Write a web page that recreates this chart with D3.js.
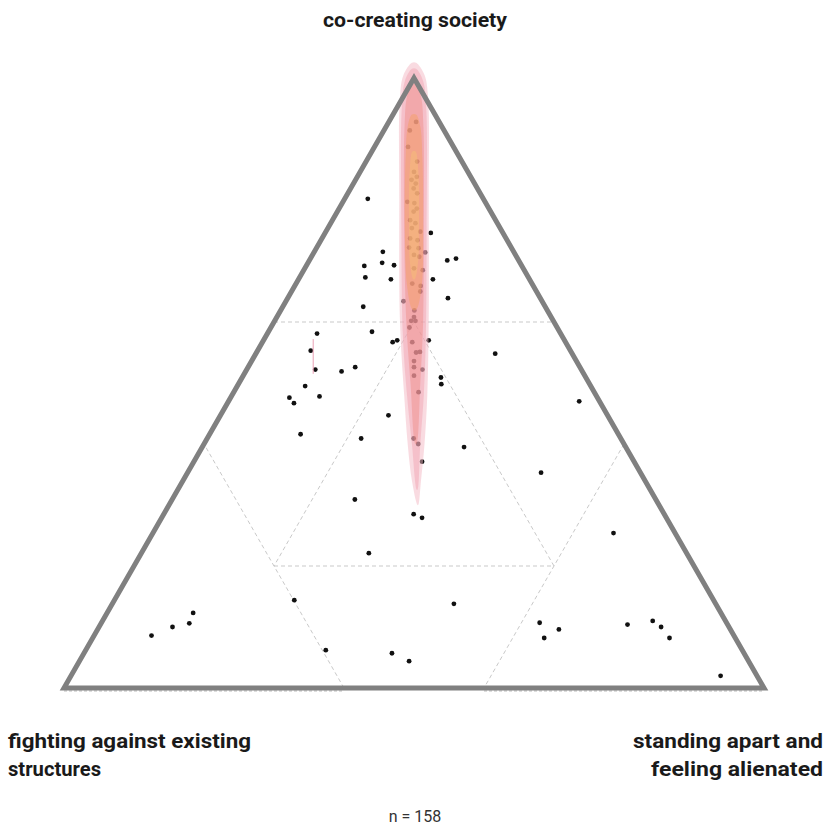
<!DOCTYPE html>
<html>
<head>
<meta charset="utf-8">
<script src="https://cdn.jsdelivr.net/npm/d3@7"></script>
<style>
  body { margin: 0; background: #fff; }
  svg { display: block; }
  text { font-family: Roboto, "Noto Sans", sans-serif; }
</style>
</head>
<body>
<div id="chart"></div>
<script>
// corner labels (top, bottom left, bottom right)
var topLabel = ["co-creating society"];
var leftLabel = ["fighting against existing", "structures"];
var rightLabel = ["standing apart and", "feeling alienated"];
var sampleSize = 158;

// partition cut points, in %
var cuts = [20, 60];

// responses: [co-creating, fighting, alienated] in %
var responses = [
  [80.2,16.5,3.3],[74.6,10.3,15.1],[71.5,18.7,9.8],[69.7,19.7,10.6],[69.2,22.5,8.3],
  [69.3,18.2,12.5],[67.3,23.3,9.4],[67.0,19.8,13.2],[70.1,10.2,19.7],[70.4,8.8,20.8],
  [67.0,13.8,19.2],[63.9,13.2,22.9],[63.4,19.8,16.8],[62.5,26.0,11.5],[58.4,26.8,14.8],
  [56.7,24.7,18.6],[57.0,23.9,19.1],[57.0,19.4,23.6],[50.9,20.7,28.4],[49.8,21.2,29.0],
  [51.9,34.4,13.7],[52.6,32.1,15.3],[58.1,34.8,7.1],[55.3,37.1,7.6],[52.2,38.0,9.8],
  [49.5,40.8,9.7],[47.6,44.0,8.4],[46.7,43.8,9.5],[47.8,39.6,12.6],[41.6,45.4,13.0],
  [44.7,31.3,24.0],[40.9,37.1,22.0],[40.9,29.6,29.5],[40.0,29.4,30.6],[39.5,23.1,37.4],
  [37.1,30.3,32.6],[30.9,43.0,26.1],[28.5,35.8,35.7],[27.9,34.9,37.2],[22.1,45.4,32.5],
  [54.8,11.0,34.2],[47.0,2.9,50.1],[35.3,14.2,50.5],[25.4,8.8,65.8],[13.8,37.4,48.8],
  [14.4,59.9,25.7],[6.2,59.5,34.3],[5.7,50.3,44.0],[4.4,48.5,47.1],[12.3,75.4,12.3],
  [10.0,79.5,10.5],[10.6,76.8,12.6],[8.6,83.2,8.2],[10.7,26.7,62.6],[8.2,27.3,64.5],
  [9.6,24.5,65.9],[10.4,14.3,75.3],[11.0,10.4,78.6],[10.0,9.7,80.3],[8.2,9.4,82.4],
  [2.0,5.2,92.8],
  [92.8,3.3,3.9],[91.4,4.9,3.7],[88.7,6.5,4.8],[86.3,6.4,7.3],[84.6,7.7,7.7],
  [83.8,7.7,8.5],[83.3,8.7,8.0],[82.7,8.4,8.9],[81.9,9.1,9.0],[81.1,9.0,9.9],
  [79.7,11.1,9.2],[79.5,10.2,10.3],[78.6,10.3,11.1],[78.1,11.0,10.9],[76.7,12.2,11.1],
  [76.2,11.7,12.1],[75.4,12.6,12.0],[74.8,11.7,13.5],[73.7,13.7,12.6],[73.4,12.8,13.8],
  [72.2,14.6,13.2],[72.1,13.3,14.6],[71.0,14.5,14.5],[71.4,12.7,15.9],[70.7,13.9,15.4],
  [68.8,15.6,15.6],[68.5,14.5,17.0],[66.3,17.1,16.6],[65.9,16.1,18.0],[65.0,16.6,18.4],
  [61.9,19.0,19.1],[60.8,19.6,19.6],[60.2,20.3,19.5],[60.2,19.7,20.1],[59.1,21.1,19.8],
  [56.7,21.9,21.4],[55.0,22.2,22.8],[55.1,21.6,23.3],[53.6,23.2,23.2],[52.2,22.7,25.1],
  [52.6,23.7,23.7],[51.2,24.4,24.4],[48.5,25.1,26.4]
];

// confidence regions along the fighting = alienated axis:
// [co-creating %, left offset, right offset] (offsets in % of the base)
var regionPale   = [[102.5,-0.3,0.3],[100.5,-1.5,1.5],[97,-2.0,2.0],[80,-2.1,2.1],[60,-2.0,2.1],[48,-1.4,1.9],[40,-0.9,1.5],[34,-0.3,1.0],[30,0.5,0.6]];
var regionPink   = [[101.5,-0.3,0.3],[99.5,-1.3,1.3],[95,-1.75,1.75],[75,-1.8,1.8],[58,-1.6,1.7],[48,-1.0,1.4],[40,-0.3,0.9],[32.5,0.4,0.5]];
var regionSalmon = [[99,-0.3,0.3],[97,-1.0,1.0],[92,-1.35,1.35],[75,-1.4,1.4],[60,-1.1,1.3],[50,-0.5,0.9],[40,0.2,0.35]];
var regionOrange = [[94,-0.3,0.3],[92,-0.9,0.9],[87,-1.2,1.2],[75,-1.3,1.3],[66,-1.0,1.1],[62,-0.2,0.3]];
var regionYellow = [[88,-0.2,0.2],[85,-0.6,0.6],[75,-0.7,0.7],[70,-0.6,0.6],[67,-0.1,0.1]];
var regionSmall  = [[57.2,-14.4,-14.4],[51.5,-14.4,-14.4]];

var width = 832, height = 827;

var svg = d3.select('#chart').append('svg')
  .attr('width', width)
  .attr('height', height);

var x = d3.scaleLinear().domain([0, 100]).range([64, 764]);
var y = d3.scaleLinear().domain([0, 100]).range([688, 78]);

// ternary -> screen
function pt(a, b, c) {
  var s = a + b + c;
  a = a * 100 / s; c = c * 100 / s;
  return [x(c + a / 2), y(a)];
}

// a composition with value v on component k, and p,q on the others
function comp(k, v, p, q) {
  var r = [0, 0, 0];
  r[k] = v; r[(k + 1) % 3] = p; r[(k + 2) % 3] = q;
  return r;
}

var lo = cuts[0], hi = cuts[1];
var segs = [];
[0, 1, 2].forEach(function(k) {
  segs.push([comp(k, hi, 100 - hi, 0), comp(k, hi, 0, 100 - hi)]);
  segs.push([comp(k, lo, 100 - 2 * lo, lo), comp(k, lo, lo, 100 - 2 * lo)]);
});

var grid = svg.append('g');
grid.selectAll('line.cut')
  .data(segs)
  .enter().append('line')
  .attr('class', 'cut')
  .attr('x1', function(d) { return pt.apply(null, d[0])[0]; })
  .attr('y1', function(d) { return pt.apply(null, d[0])[1]; })
  .attr('x2', function(d) { return pt.apply(null, d[1])[0]; })
  .attr('y2', function(d) { return pt.apply(null, d[1])[1]; })
  .attr('stroke', '#c9c9c9')
  .attr('stroke-width', 1)
  .attr('stroke-dasharray', '4,3');

// bottom edges of the corner regions, peeking under the frame
var baseSegs = [[[0, 100, 0], [0, hi, 100 - hi]], [[0, 100 - hi, hi], [0, 0, 100]]];
grid.selectAll('line.base')
  .data(baseSegs)
  .enter().append('line')
  .attr('class', 'base')
  .attr('x1', function(d) { return pt.apply(null, d[0])[0]; })
  .attr('y1', function(d) { return pt.apply(null, d[0])[1] + 3; })
  .attr('x2', function(d) { return pt.apply(null, d[1])[0]; })
  .attr('y2', function(d) { return pt.apply(null, d[1])[1] + 3; })
  .attr('stroke', '#bbb')
  .attr('stroke-width', 1)
  .attr('stroke-dasharray', '3,2');

// points
svg.append('g').selectAll('circle')
  .data(responses)
  .enter().append('circle')
  .attr('cx', function(d) { return pt(d[0], d[1], d[2])[0]; })
  .attr('cy', function(d) { return pt(d[0], d[1], d[2])[1]; })
  .attr('r', 2.4)
  .attr('fill', '#111');

// confidence regions
function outline(prof) {
  var left = prof.map(function(p) { return [x(50 + p[1]), y(p[0])]; });
  var right = prof.slice().reverse().map(function(p) { return [x(50 + p[2]), y(p[0])]; });
  return left.concat(right);
}
var shape = d3.line().curve(d3.curveCatmullRomClosed.alpha(0.5));

var layers = [
  { prof: regionPale,   fill: '#f4b8c4', op: 0.5 },
  { prof: regionPink,   fill: '#ee8fa0', op: 0.35 },
  { prof: regionSalmon, fill: '#ee7a74', op: 0.35 },
  { prof: regionOrange, fill: '#f3a060', op: 0.45 },
  { prof: regionYellow, fill: '#f6cc70', op: 0.35 }
];
svg.append('g').selectAll('path')
  .data(layers)
  .enter().append('path')
  .attr('d', function(d) { return shape(outline(d.prof)); })
  .attr('fill', function(d) { return d.fill; })
  .attr('fill-opacity', function(d) { return d.op; })
  .attr('stroke', 'none');

svg.append('line')
  .attr('x1', x(50 + regionSmall[0][1]))
  .attr('y1', y(regionSmall[0][0]))
  .attr('x2', x(50 + regionSmall[1][1]))
  .attr('y2', y(regionSmall[1][0]))
  .attr('stroke', '#eaa0b4')
  .attr('stroke-width', 1);

// frame
var corners3 = [pt(100, 0, 0), pt(0, 100, 0), pt(0, 0, 100)];
svg.append('path')
  .attr('d', 'M' + corners3.join('L') + 'Z')
  .attr('fill', 'none')
  .attr('stroke', '#808080')
  .attr('stroke-width', 5)
  .attr('stroke-linejoin', 'miter');

// labels
function label(lines, tx, anchor, y0, widths) {
  svg.append('g').selectAll('text')
    .data(lines)
    .enter().append('text')
    .attr('x', tx)
    .attr('y', function(d, i) { return y0 + i * 28; })
    .attr('text-anchor', anchor)
    .attr('font-size', 21)
    .attr('font-weight', 700)
    .attr('fill', '#1a1a1a')
    .attr('textLength', function(d, i) { return widths[i]; })
    .attr('lengthAdjust', 'spacingAndGlyphs')
    .text(function(d) { return d; });
}
label(topLabel, 415, 'middle', 27, [184]);
label(leftLabel, 8, 'start', 748, [243, 93]);
label(rightLabel, 823, 'end', 748, [190, 172]);

svg.append('text')
  .attr('x', 415)
  .attr('y', 822)
  .attr('text-anchor', 'middle')
  .attr('font-size', 16)
  .attr('fill', '#333')
  .text('n = ' + sampleSize);
</script>
</body>
</html>
